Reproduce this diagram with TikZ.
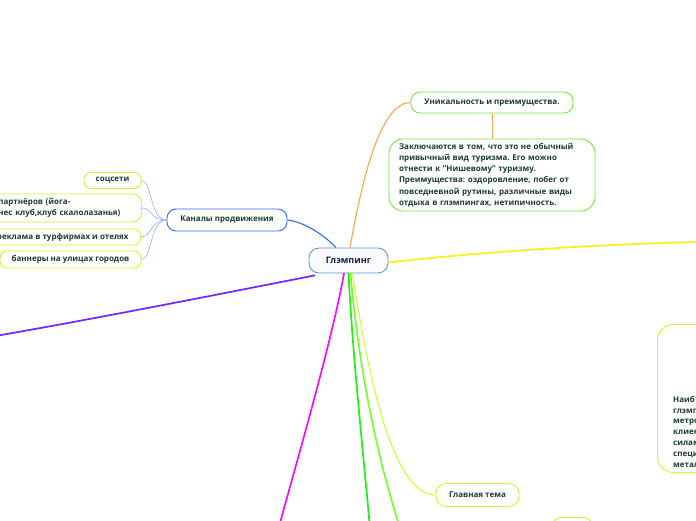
\documentclass[tikz,border=0pt]{standalone}
\usepackage{fontspec}
\setmainfont{Open Sans}
\frenchspacing
\definecolor{txt}{HTML}{1B3D2F}
\definecolor{ctxt}{HTML}{12243F}
\definecolor{cblue}{HTML}{5B9BD5}
\definecolor{kblue}{HTML}{3366FF}
\definecolor{lblue}{HTML}{8FB0FF}
\definecolor{lime}{HTML}{CCF533}
\definecolor{gbord}{HTML}{70EA3C}
\definecolor{orng}{HTML}{FFA640}
\definecolor{yell}{HTML}{FFEE11}
\definecolor{gone}{HTML}{22EE11}
\definecolor{gtwo}{HTML}{77FF33}
\definecolor{ygrn}{HTML}{CCFF33}
\definecolor{mgnt}{HTML}{EE11FF}
\definecolor{purp}{HTML}{7722FF}
\begin{document}
\begin{tikzpicture}[x=1pt,y=-1pt,
  font=\bfseries\fontsize{8}{11}\selectfont,
  tbox/.style={draw, rounded corners=8pt, line width=0.9pt, fill=white, text=txt, inner sep=0pt, align=center},
  branch/.style={line width=1.7pt, line cap=round},
  twig/.style={line width=0.6pt, lblue}]
\useasboundingbox (0,0) rectangle (696,520);
\clip (0,0) rectangle (696,520);

% central
\node[tbox, draw=cblue, fill=blue!2, text=ctxt, minimum width=79pt, minimum height=25pt,
      rounded corners=10pt, font=\bfseries\fontsize{9}{11}\selectfont] (cent) at (348.5,260.5) {Глэмпинг};

% channels
\node[tbox, draw=kblue, minimum width=120pt, minimum height=22pt, rounded corners=9pt] (kan) at (227,220) {Каналы продвижения};
\node[tbox, draw=lime, minimum width=57pt, minimum height=16pt, rounded corners=7pt] (soc) at (112.5,180.5) {соцсети};
\node[tbox, draw=lime, anchor=west, text width=133pt, inner xsep=10pt, minimum height=28pt, align=left, rounded corners=9pt,
      font=\bfseries\fontsize{8}{10.5}\selectfont] (part) at (-12,208) {партнёров (йога-\\нес клуб,клуб скалолазанья)};
\node[tbox, draw=lime, anchor=east, inner xsep=12pt, minimum height=16pt, rounded corners=7pt] (rek) at (141,237) {реклама в турфирмах и отелях};
\node[tbox, draw=lime, minimum width=141pt, minimum height=17pt, rounded corners=7pt] (ban) at (70.5,259.5) {баннеры на улицах городов};

% uniqueness
\node[tbox, draw=gbord, minimum width=162pt, minimum height=21pt, rounded corners=9pt] (uniq) at (492,102.5) {Уникальность и преимущества.};
\node[tbox, draw=gbord, minimum width=206pt, minimum height=72pt, text width=186pt, align=left, rounded corners=14pt,
      font=\bfseries\fontsize{8}{11.3}\selectfont] (desc) at (492,175)
 {Заключаются в том, что это не обычный привычный вид туризма. Его можно отнести к "Нишевому" туризму. Преимущества: оздоровление, побег от повседневной рутины, различные виды отдыха в глэмпингах, нетипичность.};

% main theme
\node[tbox, draw=lime, minimum width=83pt, minimum height=23pt, rounded corners=10pt] (glav) at (477.5,495) {Главная тема};

% partial nodes at the edges
\node[tbox, draw=lime, anchor=north west, minimum width=80pt, minimum height=148pt, rounded corners=16pt] (br) at (657,324) {};
\node[anchor=north west, align=left, inner sep=0pt, text=txt, font=\bfseries\fontsize{8}{10.8}\selectfont] (brtext) at (673,396)
 {Наиб\\глэмп\\метро\\клиен\\силам\\специ\\метал};
\node[tbox, draw=lime, anchor=north west, minimum width=40pt, minimum height=24pt, rounded corners=9pt] (bot) at (552,517) {};

% free ends
\coordinate (eY) at (700,242);
\coordinate (eP) at (-2,335.5);
\coordinate (eM) at (280,523);
\coordinate (eG1) at (369.5,523);
\coordinate (eG2) at (398.5,523);

% connectors
\draw[kblue, line width=1.1pt] (kan.east) .. controls (305,222) and (325,236) .. ([xshift=-12.5pt]cent.north);
\draw[twig] (kan.west) .. controls (150,220) and (152,180.5) .. (soc.east);
\draw[twig] (kan.west) .. controls (150,220) and (152,208) .. (part.east);
\draw[twig] (kan.west) .. controls (150,220) and (152,237) .. (rek.east);
\draw[twig] (kan.west) .. controls (150,220) and (152,259.5) .. (ban.east);

\draw[orng, line width=1.1pt] ([xshift=1.5pt]cent.north) .. controls (362,180) and (380,102.5) .. (uniq.west);
\draw[orng, line width=0.8pt] (uniq.south) -- (desc.north);

\draw[yell, branch] ([yshift=-2pt]cent.east) .. controls (480,252) and (600,244) .. (eY);
\draw[purp, branch] ([xshift=6pt,yshift=-2pt]cent.south west) .. controls (250,288) and (100,318) .. (eP);
\draw[mgnt, branch] ([xshift=-4.5pt]cent.south) .. controls (332,340) and (300,450) .. (eM);
\draw[gone, branch] (cent.south) .. controls (353,360) and (363,450) .. (eG1);
\draw[gtwo, branch] ([xshift=2pt]cent.south) .. controls (358,360) and (375,450) .. (eG2);
\draw[ygrn, line width=1.1pt] ([xshift=4pt]cent.south) .. controls (370,390) and (395,495) .. (glav.west);
\end{tikzpicture}
\end{document}
